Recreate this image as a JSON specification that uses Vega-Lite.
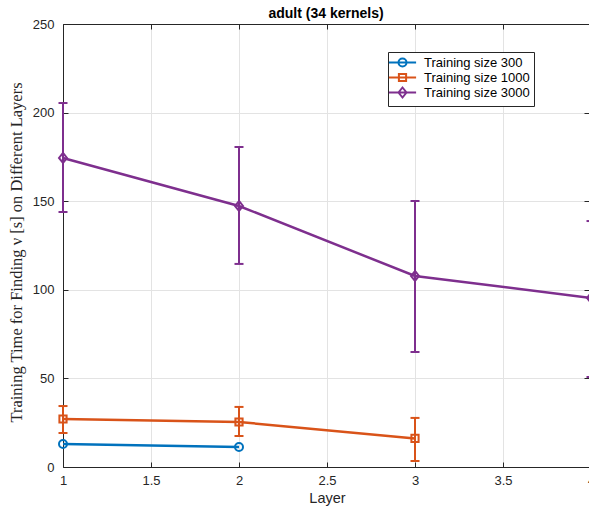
{
  "$schema": "https://vega.github.io/schema/vega-lite/v6.json",
  "width": 526,
  "height": 443,
  "autosize": {"type": "none"},
  "padding": {"left": 63, "top": 24, "right": 0, "bottom": 49},
  "background": "white",
  "title": {
    "text": "adult (34 kernels)",
    "font": "Liberation Sans",
    "fontSize": 14,
    "fontWeight": "bold",
    "color": "#000000",
    "offset": -3
  },
  "config": {
    "view": {"stroke": null},
    "axis": {
      "domainColor": "#262626",
      "domainWidth": 1,
      "tickColor": "#262626",
      "tickWidth": 1,
      "tickSize": -5,
      "labelFont": "Liberation Sans",
      "labelFontSize": 13,
      "labelColor": "#262626",
      "labelFlush": false,
      "gridColor": "#e3e3e3",
      "gridWidth": 1,
      "titleFont": "Liberation Sans",
      "titleColor": "#262626",
      "titleFontWeight": "normal"
    },
    "range": {
      "category": ["#0072BD", "#D95319", "#7E2F8E"]
    }
  },
  "data": {
    "values": [
      {"layer": 1, "series": "Training size 300", "time": 13.0},
      {"layer": 2, "series": "Training size 300", "time": 11.3},
      {"layer": 1, "series": "Training size 1000", "time": 27.1, "lo": 19.2, "hi": 34.4},
      {"layer": 2, "series": "Training size 1000", "time": 25.4, "lo": 17.5, "hi": 33.9},
      {"layer": 3, "series": "Training size 1000", "time": 16.1, "lo": 3.4, "hi": 27.7},
      {"layer": 1, "series": "Training size 3000", "time": 174.4, "lo": 143.9, "hi": 205.4},
      {"layer": 2, "series": "Training size 3000", "time": 147.3, "lo": 114.6, "hi": 180.6},
      {"layer": 3, "series": "Training size 3000", "time": 107.8, "lo": 64.9, "hi": 150.1},
      {"layer": 4, "series": "Training size 3000", "time": 95.4, "lo": 50.8, "hi": 138.8}
    ]
  },
  "resolve": {
    "scale": {"shape": "independent", "color": "independent"},
    "axis": {"x": "independent", "y": "independent"}
  },
  "layer": [
    {
      "mark": {"type": "line", "strokeWidth": 2.5},
      "encoding": {
        "x": {
          "field": "layer", "type": "quantitative",
          "scale": {"domain": [1, 4], "range": [0, 528], "nice": false, "zero": false},
          "axis": {
            "orient": "bottom",
            "values": [1, 1.5, 2, 2.5, 3, 3.5, 4],
            "format": "~g",
            "title": "Layer",
            "titleFontSize": 14.5,
            "titlePadding": 4,
            "labelPadding": 12,
            "grid": true
          }
        },
        "y": {
          "field": "time", "type": "quantitative",
          "scale": {"domain": [0, 250], "nice": false},
          "axis": {
            "orient": "left",
            "values": [0, 50, 100, 150, 200, 250],
            "title": "Training Time for Finding ν [s] on Different Layers",
            "titleFont": "Liberation Serif",
            "titleFontSize": 16.5,
            "titlePadding": 8,
            "titleY": 228,
            "labelPadding": 14,
            "grid": true
          }
        },
        "color": {
          "field": "series", "type": "nominal",
          "scale": {"domain": ["Training size 300", "Training size 1000", "Training size 3000"]},
          "legend": null
        }
      }
    },
    {
      "transform": [{"filter": "isValid(datum.lo)"}],
      "mark": {"type": "rule", "strokeWidth": 2},
      "encoding": {
        "x": {
          "field": "layer", "type": "quantitative",
          "axis": {"orient": "top", "values": [1, 1.5, 2, 2.5, 3, 3.5, 4], "labels": false, "title": null, "grid": false}
        },
        "y": {
          "field": "lo", "type": "quantitative",
          "axis": {"orient": "right", "values": [0, 50, 100, 150, 200, 250], "labels": false, "title": null, "grid": false}
        },
        "y2": {"field": "hi"},
        "color": {
          "field": "series", "type": "nominal",
          "scale": {"domain": ["Training size 300", "Training size 1000", "Training size 3000"]},
          "legend": null
        }
      }
    },
    {
      "transform": [{"filter": "isValid(datum.lo)"}],
      "mark": {"type": "tick", "orient": "horizontal", "size": 9, "thickness": 2, "opacity": 1},
      "encoding": {
        "x": {"field": "layer", "type": "quantitative", "axis": null},
        "y": {"field": "lo", "type": "quantitative", "axis": null},
        "color": {
          "field": "series", "type": "nominal",
          "scale": {"domain": ["Training size 300", "Training size 1000", "Training size 3000"]},
          "legend": null
        }
      }
    },
    {
      "transform": [{"filter": "isValid(datum.hi)"}],
      "mark": {"type": "tick", "orient": "horizontal", "size": 9, "thickness": 2, "opacity": 1},
      "encoding": {
        "x": {"field": "layer", "type": "quantitative", "axis": null},
        "y": {"field": "hi", "type": "quantitative", "axis": null},
        "color": {
          "field": "series", "type": "nominal",
          "scale": {"domain": ["Training size 300", "Training size 1000", "Training size 3000"]},
          "legend": null
        }
      }
    },
    {
      "mark": {"type": "point", "filled": false, "strokeWidth": 2, "size": 64, "opacity": 1},
      "encoding": {
        "x": {"field": "layer", "type": "quantitative", "axis": null},
        "y": {"field": "time", "type": "quantitative", "axis": null},
        "color": {
          "field": "series", "type": "nominal",
          "scale": {"domain": ["Training size 300", "Training size 1000", "Training size 3000"]},
          "legend": null
        },
        "shape": {
          "field": "series", "type": "nominal",
          "scale": {
            "domain": ["Training size 300", "Training size 1000", "Training size 3000"],
            "range": [
              "M-1,0A1,1 0 1,0 1,0A1,1 0 1,0 -1,0Z",
              "M-0.9,-0.9H0.9V0.9H-0.9Z",
              "M0,-1.25L1,0L0,1.25L-1,0Z"
            ]
          },
          "legend": null
        }
      }
    },
    {
      "transform": [{"filter": "false"}],
      "mark": {"type": "point", "filled": false, "strokeWidth": 2, "opacity": 1},
      "encoding": {
        "color": {
          "field": "series", "type": "nominal",
          "scale": {"domain": ["Training size 300", "Training size 1000", "Training size 3000"]},
          "legend": {
            "title": null,
            "orient": "none",
            "legendX": 325,
            "legendY": 28,
            "strokeColor": "#262626",
            "fillColor": "white",
            "padding": 4,
            "symbolSize": 64,
            "symbolStrokeWidth": 2,
            "symbolOffset": 4,
            "labelOffset": 15,
            "labelFont": "Liberation Sans",
            "labelFontSize": 13,
            "labelColor": "#000000",
            "labelExpr": "datum.label + '\u00a0\u00a0\u00a0'",
            "rowPadding": -4
          }
        },
        "shape": {
          "field": "series", "type": "nominal",
          "scale": {
            "domain": ["Training size 300", "Training size 1000", "Training size 3000"],
            "range": [
              "M-3.4,0H3.4M-1,0A1,1 0 1,0 1,0A1,1 0 1,0 -1,0Z",
              "M-3.4,0H3.4M-0.9,-0.9H0.9V0.9H-0.9Z",
              "M-3.4,0H3.4M0,-1.25L1,0L0,1.25L-1,0Z"
            ]
          },
          "legend": {
            "title": null,
            "orient": "none",
            "legendX": 325,
            "legendY": 28,
            "strokeColor": "#262626",
            "fillColor": "white",
            "padding": 4,
            "symbolSize": 64,
            "symbolStrokeWidth": 2,
            "symbolOffset": 4,
            "labelOffset": 15,
            "labelFont": "Liberation Sans",
            "labelFontSize": 13,
            "labelColor": "#000000",
            "labelExpr": "datum.label + '\u00a0\u00a0\u00a0'",
            "rowPadding": -4
          }
        }
      }
    }
  ]
}
